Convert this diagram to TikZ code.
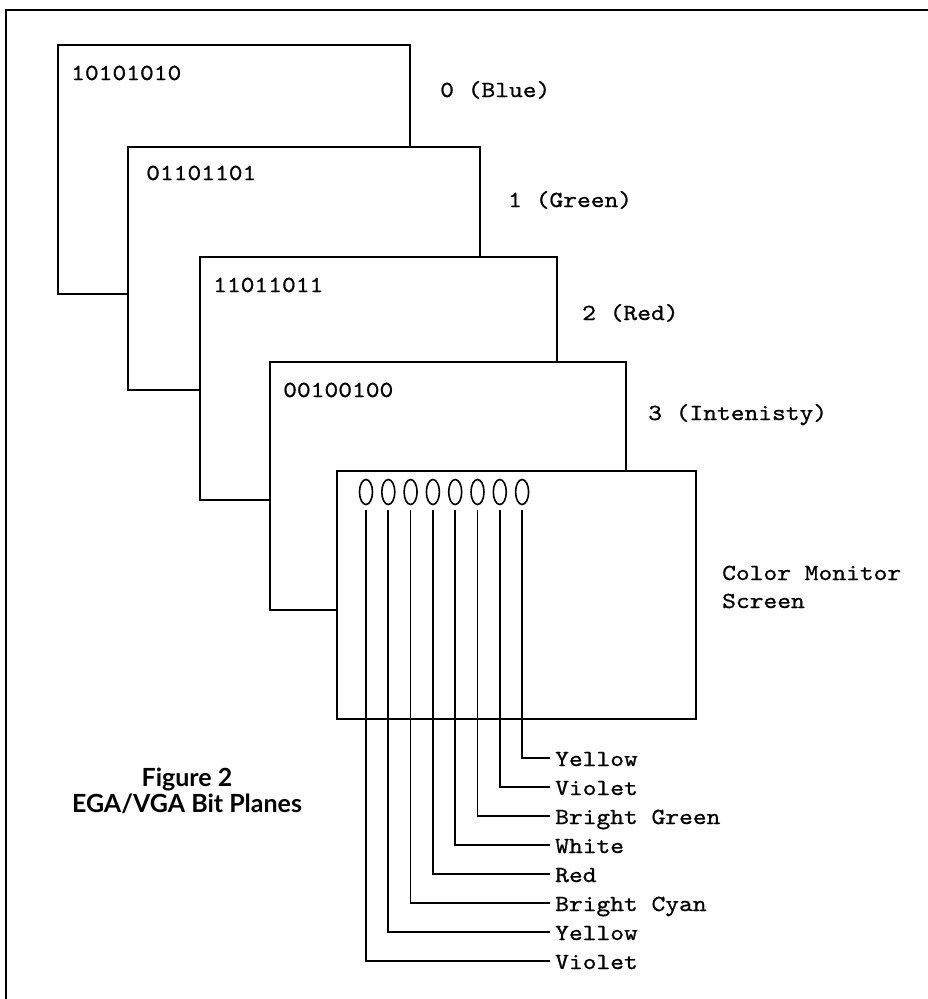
\documentclass[tikz,border=0pt]{standalone}
\usepackage{fontspec}
\setmainfont{Liberation Serif}
\newfontfamily\monofont[FakeStretch=1.14,FakeBold=0.8]{lmmono10-regular.otf}
\newfontfamily\capfont{Lato}
\usetikzlibrary{positioning,shapes.geometric}

\begin{document}
\begin{tikzpicture}[
				x=1pt, y=-1pt,
				node distance=9.3pt,
				plane/.style={
					rectangle,
					draw=black,
					fill=white,
					line width=2.8pt,
					inner sep=0pt,
					outer sep=0pt,
					anchor=north west
				},
				bits/.style={anchor=base west, inner sep=0pt, font=\monofont\fontsize{23}{26}\selectfont},
				pixel/.style={ellipse, draw=black, line width=1.6pt, inner sep=0pt, outer sep=0pt, minimum width=13pt, minimum height=25pt},
				colour/.style={anchor=west, inner xsep=5pt, inner ysep=0pt, text height=16pt, text depth=0pt, font=\monofont\fontsize{23}{26}\selectfont},
				lead/.style={line width=1.7pt, draw=black, shorten <=5.5pt},
				caption/.style={anchor=base, inner sep=0pt, font=\capfont\bfseries\fontsize{25}{28}\selectfont},
				frame/.style={line width=2.8pt, draw=black}
				]
				\useasboundingbox (0,0) rectangle (928,999);
				\draw[frame] (6,999) -- (6,10) -- (928,10);
				
				% bit planes, back to front
				\node[plane, minimum width=352pt, minimum height=249pt] (p0) at (58,45) {};
				\node[bits] (b0) at ([xshift=13pt,yshift=-35pt]p0.north west) {10101010};
				\node[bits] (n0) at ([xshift=30pt,yshift=-52pt]p0.north east) {0 (Blue)};
				\node[plane, minimum width=352pt, minimum height=243pt] (p1) at (128,147) {};
				\node[bits] (b1) at ([xshift=18pt,yshift=-33pt]p1.north west) {01101101};
				\node[bits] (n1) at ([xshift=28pt,yshift=-60pt]p1.north east) {1 (Green)};
				\node[plane, minimum width=357pt, minimum height=243pt] (p2) at (200,257) {};
				\node[bits] (b2) at ([xshift=13pt,yshift=-35pt]p2.north west) {11011011};
				\node[bits] (n2) at ([xshift=25pt,yshift=-63pt]p2.north east) {2 (Red)};
				\node[plane, minimum width=356pt, minimum height=248pt] (p3) at (270,362) {};
				\node[bits] (b3) at ([xshift=13pt,yshift=-35pt]p3.north west) {00100100};
				\node[bits] (n3) at ([xshift=22pt,yshift=-58pt]p3.north east) {3 (Intenisty)};
				\node[plane, minimum width=359pt, minimum height=248pt] (mon) at (337,471) {};
				\node[bits] (m1) at ([xshift=26pt,yshift=-109pt]mon.north east) {Color Monitor};
				\node[bits] (m2) at ([yshift=-28pt]m1.base west) {Screen};
				
				% pixels on the screen
				\node[pixel] (e1) at (366,492) {};
				\node[pixel, right=of e1] (e2) {};
				\node[pixel, right=of e2] (e3) {};
				\node[pixel, right=of e3] (e4) {};
				\node[pixel, right=of e4] (e5) {};
				\node[pixel, right=of e5] (e6) {};
				\node[pixel, right=of e6] (e7) {};
				\node[pixel, right=of e7] (e8) {};
				
				\node[colour] (l8) at (550,758) {Yellow};
				\node[colour, below=12.6pt of l8.south west, anchor=north west] (l7) {Violet};
				\node[colour, below=12.6pt of l7.south west, anchor=north west] (l6) {Bright Green};
				\node[colour, below=12.6pt of l6.south west, anchor=north west] (l5) {White};
				\node[colour, below=12.6pt of l5.south west, anchor=north west] (l4) {Red};
				\node[colour, below=12.6pt of l4.south west, anchor=north west] (l3) {Bright Cyan};
				\node[colour, below=12.6pt of l3.south west, anchor=north west] (l2) {Yellow};
				\node[colour, below=12.6pt of l2.south west, anchor=north west] (l1) {Violet};
				
				\draw[lead] (e1) |- (l1);
				\draw[lead] (e2) |- (l2);
				\draw[lead] (e3) |- (l3);
				\draw[lead] (e4) |- (l4);
				\draw[lead] (e5) |- (l5);
				\draw[lead] (e6) |- (l6);
				\draw[lead] (e7) |- (l7);
				\draw[lead] (e8) |- (l8);
				
				\node[caption] (fig) at (187,786) {Figure 2};
				\node[caption] (title) at ([yshift=-26pt]fig.base) {EGA/VGA Bit Planes};
\end{tikzpicture}
\end{document}
